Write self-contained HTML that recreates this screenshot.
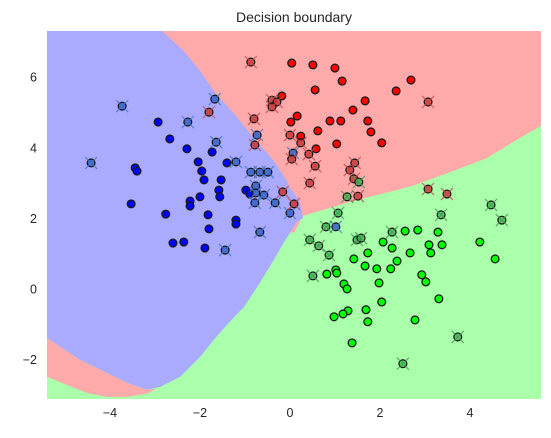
<!DOCTYPE html>
<html><head><meta charset="utf-8"><style>
body{margin:0;background:#fff;}
svg{display:block;font-family:"Liberation Sans","DejaVu Sans",sans-serif;}
</style></head><body>
<svg id="chart" width="551" height="438">
<text x="294" y="22" text-anchor="middle" font-size="14" fill="#262626">Decision boundary</text>
<g id="plot"></g>
<g id="axes"></g>
</svg>
<script>
const xTicks=[-4,-2,0,2,4];
const yTicks=[-2,0,2,4,6];
const blueDots=[[-2.93,4.73],[-2.67,4.25],[-2.29,3.97],[-1.73,3.88],[-2.04,3.60],[-1.40,3.57],[-1.96,3.34],[-1.91,3.09],[-1.53,3.09],[-3.44,3.43],[-3.40,3.34],[-1.58,2.80],[-1.56,2.61],[-2.00,2.61],[-2.22,2.49],[-2.22,2.35],[-3.53,2.41],[-2.76,2.12],[-1.82,2.10],[-1.20,1.95],[-1.20,1.84],[-1.80,1.70],[-2.60,1.30],[-2.36,1.33],[-1.89,1.16],[-0.98,2.80],[-0.89,2.69]];
const blueX=[[-3.73,5.18],[-4.42,3.57],[-2.27,4.73],[-1.67,5.38],[-1.64,4.16],[-1.20,3.60],[-0.87,3.31],[-0.67,3.31],[-0.49,3.31],[-0.76,2.92],[-0.58,2.66],[-0.78,2.44],[-0.33,2.44],[-0.76,2.72],[-1.44,1.10],[-0.67,1.61],[0,2.15],[0.07,3.85],[-0.73,4.36],[1.02,1.76]];
const redDots=[[0.04,6.40],[0.51,6.35],[1.00,6.26],[1.16,5.89],[0.56,5.64],[-0.18,5.47],[2.69,5.92],[2.36,5.61],[1.67,5.33],[1.40,5.07],[0.16,4.90],[0.02,4.73],[0.89,4.76],[1.13,4.76],[1.73,4.76],[0.62,4.48],[1.80,4.45],[2.04,4.14],[1.04,4.11],[0.24,4.33],[0.58,3.97]];
const redX=[[-0.87,6.43],[-1.80,5.01],[-0.80,4.82],[-0.78,4.08],[0,4.36],[-0.40,5.35],[-0.29,5.30],[-0.40,5.16],[0.04,3.68],[-0.16,2.75],[0.09,2.41],[3.07,5.30],[0.24,4.14],[0.42,3.82],[0.56,3.48],[1.44,3.57],[1.33,3.37],[1.42,3.12],[0.44,3.00],[1.51,2.63],[3.07,2.83],[3.49,2.69]];
const greenDots=[[2.56,1.64],[2.84,1.67],[3.29,1.61],[2.07,1.33],[2.27,1.16],[3.09,1.25],[3.38,1.25],[1.73,1.02],[2.67,1.02],[3.13,1.02],[4.22,1.33],[1.42,0.85],[2.38,0.79],[4.56,0.85],[1.67,0.65],[1.93,0.57],[2.24,0.57],[0.82,0.42],[1.02,0.54],[1.04,0.45],[2.93,0.40],[3.02,0.20],[1.98,0.17],[1.20,0.14],[1.27,0.00],[3.31,-0.28],[2.04,-0.37],[1.29,-0.62],[1.18,-0.71],[1.69,-0.59],[0.98,-0.79],[1.73,-0.93],[2.78,-0.88],[1.38,-1.53]];
const greenX=[[1.53,3.03],[1.27,2.61],[1.07,2.15],[3.36,2.10],[4.47,2.38],[4.71,1.95],[0.44,1.39],[0.64,1.22],[0.87,0.96],[0.51,0.37],[0.80,1.76],[1.49,1.39],[1.58,1.44],[2.27,1.61],[3.73,-1.36],[2.51,-2.12]];
const blueRedEdge=[[-2.84,7.31],[-2.36,6.74],[-2.0,6.18],[-1.69,5.61],[-1.24,4.96],[-0.8,4.28],[-0.36,3.63],[-0.07,3.06],[0,2.86],[0.22,2.49],[0.29,2.01]];
const blueGreenEdge=[[0.16,1.90],[0.09,1.76],[-0.13,1.33],[-0.36,0.82],[-0.67,0.17],[-1.02,-0.51],[-1.36,-0.96],[-1.69,-1.44],[-2.0,-1.93],[-2.44,-2.49],[-2.89,-2.78],[-3.18,-2.86]];
const blueRedLowEdge=[[-3.62,-2.66],[-4.07,-2.38],[-4.67,-2.01],[-5.4,-1.39]];
const redGreenLowEdge=[[-2.96,-2.83],[-3.18,-2.97],[-3.62,-3.06],[-4.07,-3.06],[-4.51,-2.95],[-4.96,-2.72],[-5.4,-2.49]];
const redGreenEdge=[[0.29,2.07],[0.67,2.21],[1.27,2.44],[1.84,2.63],[2.73,2.92],[3.62,3.34],[4.38,3.71],[5.11,4.28],[5.58,4.62]];

const X0=-5.4,X1=5.58,Y0=-3.12,Y1=7.31,L=47,R=541,T=31,B=399;
const sx=v=>L+(v-X0)/(X1-X0)*(R-L);
const sy=v=>B-(v-Y0)/(Y1-Y0)*(B-T);
const NS='http://www.w3.org/2000/svg';
const plot=document.getElementById('plot'),axes=document.getElementById('axes');
function mk(t,a,p){const e=document.createElementNS(NS,t);for(const k in a)e.setAttribute(k,a[k]);p.appendChild(e);return e;}
const pts=a=>a.map(p=>sx(p[0]).toFixed(1)+','+sy(p[1]).toFixed(1)).join(' ');
let bg=mk('rect',{x:L,y:T,width:R-L,height:B-T,fill:'#AAFFAA'},plot);


let redTop=[[X0,Y1],[X1,Y1]].concat(redGreenEdge.slice().reverse()).concat([[0.1,1.6],[X0,1.6]]);
let rp=mk('polygon',{points:pts(redTop),fill:'#FFAAAA'},plot);


let redLow=[[X0,-1.39]].concat(blueRedLowEdge.slice().reverse()).concat([[-3.18,-2.86],[-2.96,-2.83]]).concat(redGreenLowEdge);
let rl=mk('polygon',{points:pts(redLow),fill:'#FFAAAA'},plot);


let blue=[[X0,Y1]].concat(blueRedEdge).concat(blueGreenEdge).concat(blueRedLowEdge);
let bp=mk('polygon',{points:pts(blue),fill:'#AAAAFF'},plot);


function dots(arr,fill,name){arr.forEach(p=>{const c=mk('circle',{cx:sx(p[0]),cy:sy(p[1]),r:3.9,fill:fill,stroke:'#1a1a1a','stroke-width':1.3},plot);

});}
function xs(arr,fill,xc,name){arr.forEach(p=>{const x=sx(p[0]),y=sy(p[1]);const g=mk('g',{},plot);


mk('circle',{cx:x,cy:y,r:3.9,fill:fill,stroke:'#1a1a1a','stroke-width':1.3,'fill-opacity':0.75},g);
mk('path',{d:`M${x-6},${y-6}L${x+6},${y+6}M${x-6},${y+6}L${x+6},${y-6}`,stroke:xc,'stroke-width':1.3,opacity:0.75},g);});}
dots(blueDots,'#0000FF','blue-point');
dots(redDots,'#FF0000','red-point');
dots(greenDots,'#00FF00','green-point');
xs(blueX,'#2a4fd0','#3f76c0','blue-test-point');
xs(redX,'#d02a2a','#c04848','red-test-point');
xs(greenX,'#3ab84a','#3f9a50','green-test-point');
xTicks.forEach(v=>{const t=mk('text',{x:sx(v),y:B+18,'text-anchor':'middle','font-size':12.5,fill:'#262626'},axes);t.textContent=v<0?'\u2212'+(-v):v;

});
yTicks.forEach(v=>{const t=mk('text',{x:L-10,y:sy(v)+4.5,'text-anchor':'end','font-size':12.5,fill:'#262626'},axes);t.textContent=v<0?'\u2212'+(-v):v;

});
</script>
</body></html>
